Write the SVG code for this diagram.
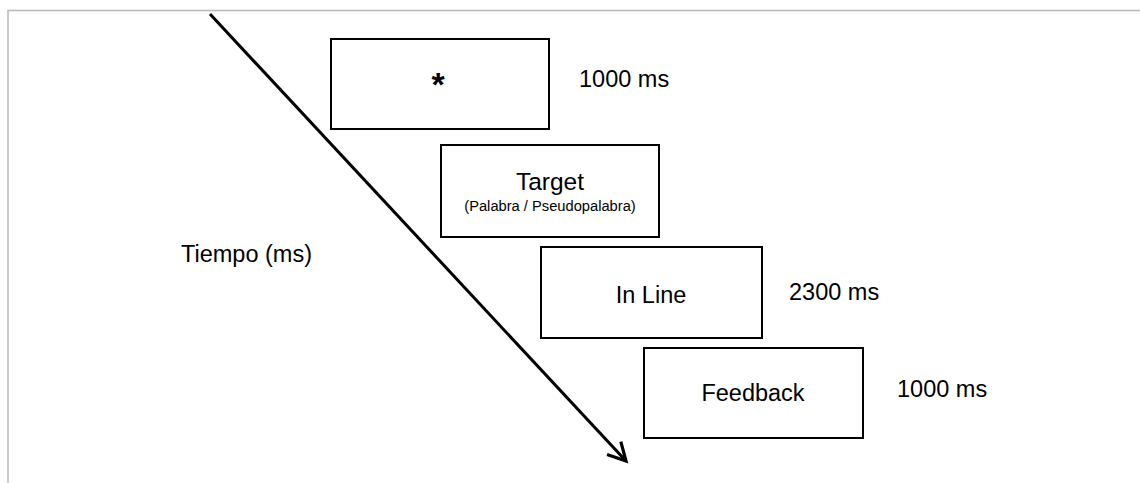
<svg xmlns="http://www.w3.org/2000/svg" width="1140" height="483" viewBox="0 0 1140 483">
  <style>
    .box { fill: #ffffff; stroke: #000000; stroke-width: 2; }
    .lbl { font-family: "Liberation Sans", Arial, sans-serif; font-size: 23.5px; fill: #000000; }
    .mid { text-anchor: middle; }
    .small { font-family: "Liberation Sans", Arial, sans-serif; font-size: 14.7px; fill: #000000; text-anchor: middle; }
    .frame { fill: none; stroke: #b8b8b8; stroke-width: 1.5; }
  </style>
  <defs>
    <marker id="chevron" viewBox="0 0 12 12" refX="10" refY="6" markerWidth="12" markerHeight="12" markerUnits="userSpaceOnUse" orient="auto" overflow="visible">
      <polyline points="-7.7,-3.4 10,6 -7.7,15.4" fill="none" stroke="#000" stroke-width="3.2" stroke-linejoin="miter"/>
    </marker>
  </defs>
  <rect width="1140" height="483" fill="#ffffff"/>

  <!-- frame -->
  <polyline class="frame" points="8,483 8,10.5 1140,10.5"/>

  <!-- time axis -->
  <g id="connectors">
    <line x1="210" y1="14" x2="626" y2="461" stroke="#000" stroke-width="3" marker-end="url(#chevron)"/>
  </g>
  <text class="lbl" x="181" y="262">Tiempo (ms)</text>

  <g id="fixation">
    <rect class="box" x="331" y="39" width="218" height="90"/>
    <text class="lbl mid" x="438" y="96" style="font-size:34px;font-weight:bold">*</text>
    <text class="lbl" x="579" y="87">1000 ms</text>
  </g>

  <g id="target">
    <rect class="box" x="441" y="145" width="218" height="92"/>
    <text class="lbl mid" x="550" y="190" style="font-size:24.5px">Target</text>
    <text class="small" x="550" y="211">(Palabra / Pseudopalabra)</text>
  </g>

  <g id="inline">
    <rect class="box" x="541" y="247" width="221" height="91"/>
    <text class="lbl mid" x="651" y="303">In Line</text>
    <text class="lbl" x="789" y="300">2300 ms</text>
  </g>

  <g id="feedback">
    <rect class="box" x="644" y="348" width="219" height="90"/>
    <text class="lbl mid" x="753" y="401">Feedback</text>
    <text class="lbl" x="897" y="397">1000 ms</text>
  </g>
</svg>
